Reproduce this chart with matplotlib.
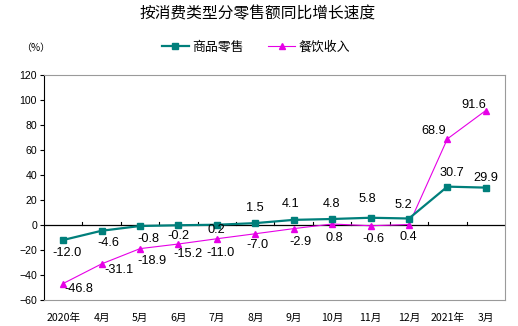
import matplotlib
matplotlib.use("Agg")
import matplotlib.pyplot as plt
from matplotlib.lines import Line2D

plt.rcParams['font.family'] = ['Liberation Sans', 'Noto Sans CJK SC', 'DejaVu Sans']

categories = ["2020年", "4月", "5月", "6月", "7月", "8月", "9月", "10月", "11月", "12月", "2021年", "3月"]
goods = [-12.0, -4.6, -0.8, -0.2, 0.2, 1.5, 4.1, 4.8, 5.8, 5.2, 30.7, 29.9]
catering = [-46.8, -31.1, -18.9, -15.2, -11.0, -7.0, -2.9, 0.8, -0.6, 0.4, 68.9, 91.6]
series_names = ["商品零售", "餐饮收入"]
title = "按消费类型分零售额同比增长速度"

# label offsets in pixels (dx, dy) relative to each point
goods_off = [(4, -13), (7, -12), (8, -13), (0, -11), (0, -5), (0, 15), (-3, 16), (-1, 15),
             (-3, 19), (-6, 13), (5, 14), (0, 10)]
cat_off = [(16, -6), (17, -6), (12, -12), (10, -10), (4, -14), (2, -11), (7, -13), (2, -14),
           (3, -13), (-1, -12), (-14, 8), (-12, 6)]

teal = "#007f7b"
magenta = "#e600e6"
CJK = ['Noto Sans CJK SC', 'DejaVu Sans']

W, H, DPI = 518, 326, 100
fig = plt.figure(figsize=(W / DPI, H / DPI), dpi=DPI)
ax = fig.add_axes([44 / W, 1 - 300 / H, (505 - 44) / W, (300 - 75) / H])

x = list(range(len(categories)))
ax.plot(x, goods, color=teal, lw=1.6, marker="s", ms=4.2, zorder=4)
ax.plot(x, catering, color=magenta, lw=0.8, marker="^", ms=5, zorder=3)

ax.set_xlim(-0.5, len(categories) - 0.5)
ax.set_ylim(-60, 120)
ax.set_yticks(range(-60, 121, 20))
ax.tick_params(axis="y", direction="out", length=3, width=0.8, labelsize=7.6, pad=2)
ax.set_xticks([])

for s in ["top", "right", "bottom"]:
    ax.spines[s].set_color("#9a9a9a")
    ax.spines[s].set_linewidth(0.8)
ax.spines["left"].set_color("black")
ax.spines["left"].set_linewidth(0.8)

# zero line with category separators
ax.axhline(0, color="black", lw=0.9, zorder=2)
for b in range(1, len(categories)):
    ax.plot([b - 0.5, b - 0.5], [0, 2.4], color="black", lw=0.8, zorder=2)

# category labels along the bottom
for i, c in enumerate(categories):
    ax.annotate(c, (i, -60), xytext=(0, -18 * 0.72), textcoords="offset points",
                ha="center", va="center", fontsize=7.6, family=CJK)

for i, v in enumerate(goods):
    dx, dy = goods_off[i]
    ax.annotate(f"{v:.1f}", (i, v), xytext=(dx * 0.72, dy * 0.72), textcoords="offset points",
                ha="center", va="center", fontsize=9.2, zorder=5)
for i, v in enumerate(catering):
    dx, dy = cat_off[i]
    ax.annotate(f"{v:.1f}", (i, v), xytext=(dx * 0.72, dy * 0.72), textcoords="offset points",
                ha="center", va="center", fontsize=9.2, zorder=5)

fig.text(258 / W, 1 - 14 / H, title, ha="center", va="center", fontsize=11.3, family=CJK)
fig.text(36 / W, 1 - 48 / H, "（%）", ha="center", va="center", fontsize=7.2, family=CJK)

handles = [Line2D([], [], color=teal, lw=1.6, marker="s", ms=4.2),
           Line2D([], [], color=magenta, lw=0.8, marker="^", ms=5)]
fig.legend(handles, series_names, loc="center", bbox_to_anchor=(256 / W, 1 - 47 / H),
           ncol=2, frameon=False, handlelength=2.1, handletextpad=0.25, columnspacing=1.9,
           borderpad=0, prop={"family": CJK, "size": 9.3})

fig.savefig("out.png", dpi=DPI)
